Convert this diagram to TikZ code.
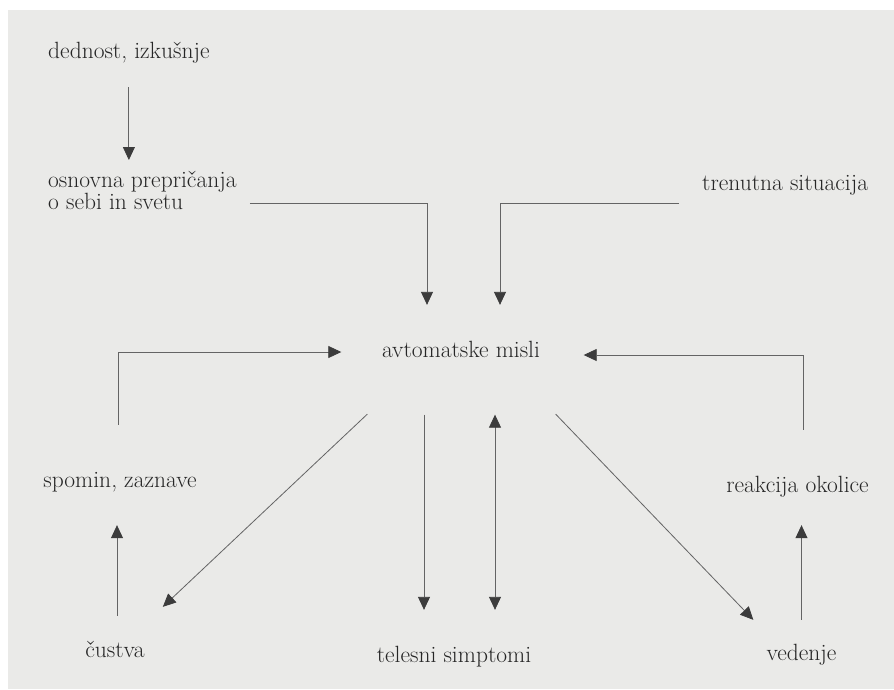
\documentclass[tikz,border=0pt]{standalone}
\usepackage{amsmath,amssymb}
\usepackage{tikz}
\usetikzlibrary{arrows.meta}
\definecolor{paper}{RGB}{234,234,232}
\definecolor{ink}{RGB}{38,38,38}
\definecolor{wire}{RGB}{100,100,100}
\definecolor{tipc}{RGB}{60,60,60}

\begin{document}
\begin{tikzpicture}[x=1pt,y=-1pt,
    txt/.style={font=\fontsize{23.5}{22}\selectfont,text=ink,inner sep=0pt},
    lbl/.style={txt,text height=16.3pt,text depth=4.6pt},
    arr/.style={draw=wire,line width=.8pt,-{Triangle[length=13pt,width=12pt,color=tipc]}},
    dbl/.style={arr,{Triangle[length=13pt,width=12pt,color=tipc]}-{Triangle[length=13pt,width=12pt,color=tipc]}}]
    \useasboundingbox (0,0) rectangle (894,689);
    \fill[white] (0,0) rectangle (894,689);
    \fill[paper] (8,10) rectangle (894,689);
    \node[lbl,anchor=west] (ded) at (48,53) {dednost, izkušnje};
    \node[txt,anchor=north west,align=left] (osn) at (48,171) {osnovna prepričanja\\o sebi in svetu};
    \node[lbl,anchor=west] (trn) at (702,185) {trenutna situacija};
    \node[lbl] (avt) at (461,352) {avtomatske misli};
    \node[lbl] (spo) at (120,482) {spomin, zaznave};
    \node[lbl] (rea) at (797.5,487) {reakcija okolice};
    \node[lbl] (cus) at (115,652) {čustva};
    \node[lbl] (tel) at (454,657) {telesni simptomi};
    \node[lbl] (ved) at (801.5,655) {vedenje};
    \draw[arr] ([shift={(0,23.5)}]ded.south) -- ([shift={(0,-11)}]ded.south |- osn.north);
    \draw[arr] ([shift={(13,-6.5)}]osn.south east) -| ([shift={(-34,-36.5)}]avt.north);
    \draw[arr] ([shift={(-23,18)}]trn.west) -| ([shift={(39,-36.5)}]avt.north);
    \draw[arr] ([shift={(-2,-46.5)}]spo.north) |- ([shift={(-40.5,0)}]avt.west);
    \draw[arr] ([shift={(5.5,-46.5)}]rea.north) |- ([shift={(43.5,3)}]avt.east);
    \draw[arr] ([shift={(2,-25.5)}]cus.north) -- ([shift={(2,32.5)}]cus.north |- spo.south);
    \draw[arr] ([shift={(-14.5,51.5)}]avt.south west) -- ([shift={(18,-34.5)}]cus.north east);
    \draw[arr] ([shift={(-37,52)}]avt.south) -- ([shift={(-30,-36.5)}]tel.north);
    \draw[dbl] ([shift={(34,52)}]avt.south) -- ([shift={(41,-36.5)}]tel.north);
    \draw[arr] ([shift={(15.5,51.5)}]avt.south east) -- ([shift={(-13,-24.5)}]ved.north west);
    \draw[arr] ([shift={(0,-24.5)}]ved.north) -- ([shift={(0,27.5)}]ved.north |- rea.south);
\end{tikzpicture}
\end{document}
